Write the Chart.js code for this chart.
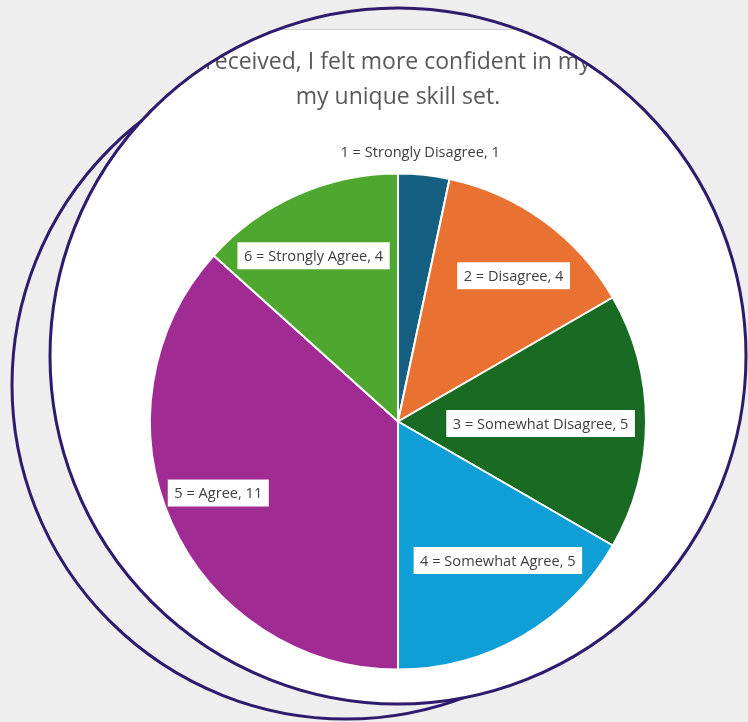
<!DOCTYPE html>
<html>
<head>
<meta charset="utf-8">
<script src="https://cdn.jsdelivr.net/npm/chart.js@4.4.1/dist/chart.umd.min.js"></script>
<style>
  body { margin: 0; background: #eeeeee; }
  canvas { display: block; }
</style>
</head>
<body>
<canvas id="surveyPie" width="748" height="722"></canvas>
<script>
// Survey answers (count of responses)
const categories = [
    '1 = Strongly Disagree',
    '2 = Disagree',
    '3 = Somewhat Disagree',
    '4 = Somewhat Agree',
    '5 = Agree',
    '6 = Strongly Agree'
];
const responses = [1, 4, 5, 5, 11, 4];
const sliceColors = ['#156082', '#e97132', '#196b24', '#0f9ed5', '#a02b93', '#4ea72e'];
const titleLines = ['received, I felt more confident in my', 'my unique skill set.'];

// where each label sits: fraction of radius, and a small nudge off the mid angle (degrees)
const labelRadius = [1.09, 0.75, 0.575, 0.69, 0.78, 0.75];
const labelNudge = [-1.3, 2.4, 0.8, -5.7, 2.3, -3];

const PURPLE = '#2f1b6e';
const frame = { x: 398, y: 356, r: 348 };     // white circle holding the chart
const ghost = { x: 346, y: 385, r: 334 };     // second outline behind it

function circlePath(ctx, c) {
    ctx.beginPath();
    ctx.arc(c.x, c.y, c.r, 0, Math.PI * 2);
}

// Background, the two circles and the clip for the chart
const framePlugin = {
    id: 'frame',
    beforeDraw(chart) {
        const ctx = chart.ctx;
        ctx.save();
        ctx.fillStyle = '#eeeeee';
        ctx.fillRect(0, 0, chart.width, chart.height);
        circlePath(ctx, ghost);
        ctx.lineWidth = 3;
        ctx.strokeStyle = PURPLE;
        ctx.stroke();
        circlePath(ctx, frame);
        ctx.fillStyle = '#ffffff';
        ctx.fill();
        ctx.restore();

        ctx.save();
        circlePath(ctx, frame);
        ctx.clip();
        // top edge of the pasted chart
        ctx.fillStyle = '#eeeeee';
        ctx.fillRect(0, 0, chart.width, 29);
        ctx.strokeStyle = '#d0d0d0';
        ctx.lineWidth = 1;
        ctx.beginPath();
        ctx.moveTo(0, 29.5);
        ctx.lineTo(chart.width, 29.5);
        ctx.stroke();
    },
    afterDraw(chart) {
        const ctx = chart.ctx;
        ctx.restore();
        ctx.save();
        circlePath(ctx, frame);
        ctx.lineWidth = 3;
        ctx.strokeStyle = PURPLE;
        ctx.stroke();
        ctx.restore();
    }
};

// Data labels with white boxes, placed from the arc elements
const sliceLabels = {
    id: 'sliceLabels',
    afterDatasetsDraw(chart) {
        const ctx = chart.ctx;
        const arcs = chart.getDatasetMeta(0).data;
        ctx.save();
        ctx.font = '14.6px "Open Sans"';
        ctx.textAlign = 'center';
        ctx.textBaseline = 'middle';
        arcs.forEach((arc, i) => {
            const p = arc.getProps(['x', 'y', 'startAngle', 'endAngle', 'outerRadius'], true);
            const a = (p.startAngle + p.endAngle) / 2 + labelNudge[i] * Math.PI / 180;
            const d = p.outerRadius * labelRadius[i];
            const x = p.x + Math.cos(a) * d;
            const y = p.y + Math.sin(a) * d;
            const text = categories[i] + ', ' + responses[i];
            const w = ctx.measureText(text).width + 13;
            ctx.fillStyle = '#ffffff';
            ctx.fillRect(x - w / 2, y - 13.5, w, 27);
            ctx.fillStyle = '#404040';
            ctx.fillText(text, x, y + 1);
        });
        ctx.restore();
    }
};

const ctx = document.getElementById('surveyPie').getContext('2d');
new Chart(ctx, {
    type: 'pie',
    data: {
        labels: categories,
        datasets: [{
            data: responses,
            backgroundColor: sliceColors,
            borderColor: '#ffffff',
            borderWidth: 2
        }]
    },
    options: {
        responsive: false,
        animation: false,
        layout: {
            padding: { left: 149, right: 101, top: 0, bottom: 51.5 }
        },
        plugins: {
            legend: { display: false },
            tooltip: { enabled: false },
            title: {
                display: true,
                text: titleLines,
                color: '#595959',
                font: { family: 'Open Sans', size: 23, weight: 'normal', lineHeight: 35 / 23 },
                padding: { top: 44.5, bottom: 58 }
            }
        }
    },
    plugins: [framePlugin, sliceLabels]
});
</script>
</body>
</html>
